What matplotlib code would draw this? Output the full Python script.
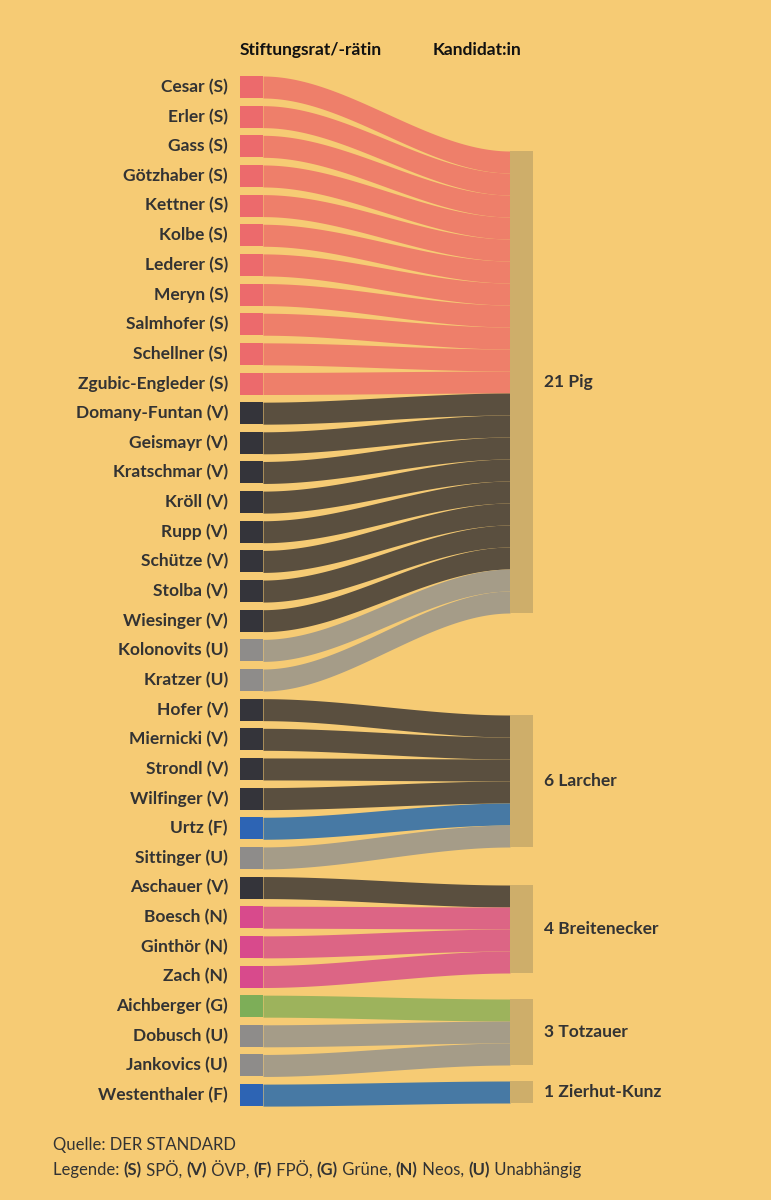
import numpy as np
import matplotlib.pyplot as plt

names = ['Cesar', 'Erler', 'Gass', 'Götzhaber', 'Kettner', 'Kolbe', 'Lederer', 'Meryn',
         'Salmhofer', 'Schellner', 'Zgubic-Engleder', 'Domany-Funtan', 'Geismayr',
         'Kratschmar', 'Kröll', 'Rupp', 'Schütze', 'Stolba', 'Wiesinger', 'Kolonovits',
         'Kratzer', 'Hofer', 'Miernicki', 'Strondl', 'Wilfinger', 'Urtz', 'Sittinger',
         'Aschauer', 'Boesch', 'Ginthör', 'Zach', 'Aichberger', 'Dobusch', 'Jankovics',
         'Westenthaler']
parties = ['S'] * 11 + ['V'] * 8 + ['U', 'U'] + ['V'] * 4 + ['F', 'U'] + ['V', 'N', 'N', 'N'] + ['G', 'U', 'U', 'F']
votes = ['Pig'] * 21 + ['Larcher'] * 6 + ['Breitenecker'] * 4 + ['Totzauer'] * 3 + ['Zierhut-Kunz']
candidates = ['Pig', 'Larcher', 'Breitenecker', 'Totzauer', 'Zierhut-Kunz']

node_col = {'S': '#EC6A6C', 'V': '#34343A', 'U': '#8E8C8A', 'F': '#2D64B4', 'N': '#D84A8C', 'G': '#7DAE58'}
flow_col = {'S': '#EE7F6A', 'V': '#5A4F3F', 'U': '#A59C88', 'F': '#4779A4', 'N': '#DC6585', 'G': '#9DB35C'}
bg = '#F6CB74'

fig = plt.figure(figsize=(7.71, 12), dpi=100, facecolor=bg)
ax = fig.add_axes([0, 0, 1, 1])
ax.set_xlim(0, 771)
ax.set_ylim(1200, 0)
ax.axis('off')

h = 22
row0, pitch = 76, 29.65
lx0, lx1, rx0, rx1 = 240, 263, 510, 533
right_top = {'Pig': 151, 'Larcher': 715, 'Breitenecker': 885, 'Totzauer': 999, 'Zierhut-Kunz': 1081}
fill = {c: 0 for c in candidates}

xs = np.linspace(lx1, rx0, 120)
t = (xs - lx1) / (rx0 - lx1)
s = t * t * (3 - 2 * t)
for i, (n, p, v) in enumerate(zip(names, parties, votes)):
    y = row0 + i * pitch
    yr = right_top[v] + fill[v] * h
    fill[v] += 1
    top = y + (yr - y) * s
    ax.fill_between(xs, top, top + h, color=flow_col[p], lw=0, zorder=1)
    ax.add_patch(plt.Rectangle((lx0, y), lx1 - lx0, h, color=node_col[p], lw=0, zorder=2))
    ax.text(228, y + h / 2, f'{n} ({p})', ha='right', va='center', fontsize=12.5,
            fontweight='bold', family='Lato', color='#333333')

for c in candidates:
    y0 = right_top[c]
    ax.add_patch(plt.Rectangle((rx0, y0), rx1 - rx0, fill[c] * h, color='#CEAE6A', lw=0, zorder=2))
    ax.text(544, y0 + fill[c] * h / 2, f'{fill[c]} {c}', ha='left', va='center', fontsize=12.5,
            fontweight='bold', family='Lato', color='#333333')

ax.text(240, 50, 'Stiftungsrat/-rätin', ha='left', va='center', fontsize=12.5,
        fontweight='bold', family='Lato', color='#111111')
ax.text(433, 50, 'Kandidat:in', ha='left', va='center', fontsize=12.5,
        fontweight='bold', family='Lato', color='#111111')

ax.text(53, 1145, 'Quelle: DER STANDARD', ha='left', va='center', fontsize=12,
        family='Lato', color='#333333')
legend = [('(S)', ' SPÖ, '), ('(V)', ' ÖVP, '), ('(F)', ' FPÖ, '), ('(G)', ' Grüne, '),
          ('(N)', ' Neos, '), ('(U)', ' Unabhängig')]
txt = ax.text(53, 1170, 'Legende: ', ha='left', va='center', fontsize=12, family='Lato', color='#333333')
fig.canvas.draw()
for bold, normal in legend:
    txt = ax.annotate(bold, xycoords=txt, xy=(1, 0.5), va='center', fontsize=12, family='Lato',
                      fontweight='bold', color='#333333')
    txt = ax.annotate(normal, xycoords=txt, xy=(1, 0.5), va='center', fontsize=12, family='Lato',
                      color='#333333')

fig.savefig('out.png', dpi=100, facecolor=bg)
